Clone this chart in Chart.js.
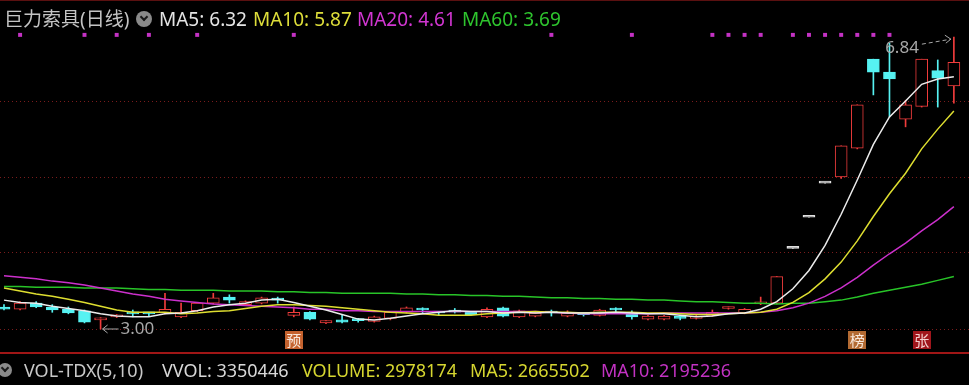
<!DOCTYPE html>
<html>
<head>
<meta charset="utf-8">
<script src="https://cdn.jsdelivr.net/npm/chart.js@4.4.1/dist/chart.umd.min.js"></script>
<style>
  html, body { margin: 0; padding: 0; background: #000; }
  #wrap { position: relative; width: 969px; height: 385px; overflow: hidden; background: #000; }
  #wrap canvas { position: absolute; left: 0; top: 0; }
  .t { position: absolute; white-space: nowrap; font-family: 'Noto Sans', 'Noto Sans CJK SC', sans-serif; }
  .h { top: 10px; font-size: 19px; line-height: 19px; }
  .f { top: 361px; font-size: 18px; line-height: 18px; }
  .ico { position: absolute; border-radius: 50%; background: #8a8a8a; }
  .ico::after { content: ''; position: absolute; left: 50%; top: 38%; width: 4px; height: 4px;
    border-right: 2px solid #1a1a1a; border-bottom: 2px solid #1a1a1a; transform: translate(-50%, -50%) rotate(45deg); }
  #topline { position: absolute; left: 0; top: 0; width: 969px; height: 1px; background: #5a1010; }
</style>
</head>
<body>
<div id="wrap">
  <canvas id="kChart" width="969" height="385"></canvas>
  <div id="topline"></div>
  <div id="legend"></div>
</div>
<script>
// daily candles, oldest first
const open  = [3.29, 3.26, 3.34, 3.29, 3.26, 3.24, 3.12, 3.16, 3.22, 3.21,
               3.21, 3.16, 3.24, 3.34, 3.42, 3.32, 3.34, 3.39, 3.18, 3.22,
               3.08, 3.12, 3.12, 3.10, 3.14, 3.22, 3.26, 3.22, 3.25, 3.22,
               3.16, 3.28, 3.16, 3.17, 3.22, 3.17, 3.20, 3.18, 3.26, 3.21,
               3.13, 3.13, 3.15, 3.14, 3.18, 3.27, 3.21, 3.33, 3.34, 4.06,
               4.47, 4.92, 5.00, 5.38, 6.55, 6.38, 5.76, 5.93, 6.40, 6.20];
const high  = [3.32, 3.36, 3.36, 3.32, 3.29, 3.25, 3.15, 3.19, 3.25, 3.22,
               3.47, 3.34, 3.35, 3.47, 3.45, 3.37, 3.42, 3.42, 3.29, 3.23,
               3.11, 3.18, 3.14, 3.17, 3.23, 3.29, 3.28, 3.23, 3.27, 3.23,
               3.28, 3.29, 3.25, 3.22, 3.25, 3.24, 3.21, 3.26, 3.28, 3.24,
               3.18, 3.18, 3.18, 3.18, 3.25, 3.29, 3.27, 3.42, 3.69, 4.06,
               4.47, 4.92, 5.41, 5.95, 6.55, 6.76, 6.01, 6.55, 6.54, 6.84];
const low   = [3.25, 3.25, 3.28, 3.22, 3.20, 3.08, 3.00, 3.15, 3.16, 3.17,
               3.20, 3.15, 3.23, 3.33, 3.34, 3.31, 3.33, 3.34, 3.16, 3.12,
               3.07, 3.08, 3.09, 3.09, 3.12, 3.21, 3.21, 3.18, 3.21, 3.18,
               3.15, 3.16, 3.15, 3.16, 3.17, 3.16, 3.17, 3.17, 3.21, 3.13,
               3.12, 3.12, 3.12, 3.13, 3.17, 3.26, 3.20, 3.32, 3.33, 4.06,
               4.47, 4.92, 4.98, 5.37, 6.08, 5.79, 5.66, 5.92, 5.92, 5.97];
const close = [3.26, 3.34, 3.29, 3.25, 3.21, 3.09, 3.14, 3.18, 3.20, 3.20,
               3.26, 3.22, 3.34, 3.41, 3.38, 3.36, 3.41, 3.38, 3.22, 3.13,
               3.11, 3.09, 3.11, 3.16, 3.22, 3.28, 3.25, 3.21, 3.22, 3.19,
               3.26, 3.17, 3.24, 3.21, 3.21, 3.21, 3.19, 3.25, 3.25, 3.16,
               3.17, 3.17, 3.14, 3.17, 3.22, 3.28, 3.26, 3.35, 3.69, 4.06,
               4.47, 4.92, 5.41, 5.95, 6.38, 6.29, 5.95, 6.55, 6.30, 6.51];

// moving averages as drawn on the chart
const ma5  = [3.38, 3.35, 3.34, 3.30, 3.27, 3.24, 3.20, 3.17, 3.16, 3.16,
              3.20, 3.21, 3.24, 3.29, 3.32, 3.34, 3.38, 3.39, 3.35, 3.30,
              3.25, 3.19, 3.13, 3.12, 3.14, 3.17, 3.20, 3.22, 3.24, 3.23,
              3.23, 3.21, 3.22, 3.21, 3.22, 3.21, 3.21, 3.21, 3.22, 3.21,
              3.20, 3.20, 3.18, 3.16, 3.17, 3.20, 3.21, 3.26, 3.36, 3.53,
              3.77, 4.10, 4.51, 4.96, 5.43, 5.79, 6.00, 6.22, 6.29, 6.32];
const ma10 = [3.54, 3.50, 3.46, 3.43, 3.39, 3.35, 3.30, 3.25, 3.22, 3.22,
              3.22, 3.20, 3.21, 3.23, 3.24, 3.27, 3.30, 3.32, 3.32, 3.31,
              3.30, 3.28, 3.26, 3.24, 3.22, 3.21, 3.20, 3.18, 3.18, 3.18,
              3.20, 3.21, 3.22, 3.23, 3.22, 3.22, 3.21, 3.22, 3.22, 3.22,
              3.21, 3.21, 3.20, 3.19, 3.19, 3.20, 3.21, 3.22, 3.26, 3.35,
              3.48, 3.66, 3.88, 4.16, 4.48, 4.78, 5.05, 5.37, 5.63, 5.87];
const ma20 = [3.70, 3.68, 3.66, 3.63, 3.61, 3.58, 3.54, 3.50, 3.46, 3.43,
              3.39, 3.37, 3.35, 3.33, 3.32, 3.31, 3.30, 3.29, 3.28, 3.26,
              3.26, 3.24, 3.24, 3.23, 3.23, 3.23, 3.23, 3.23, 3.23, 3.23,
              3.23, 3.23, 3.23, 3.23, 3.22, 3.21, 3.20, 3.20, 3.20, 3.20,
              3.20, 3.21, 3.21, 3.21, 3.21, 3.21, 3.21, 3.22, 3.24, 3.28,
              3.34, 3.43, 3.54, 3.68, 3.84, 3.99, 4.13, 4.29, 4.44, 4.61];
const ma60 = [3.56, 3.56, 3.55, 3.55, 3.55, 3.54, 3.54, 3.54, 3.53, 3.52,
              3.52, 3.51, 3.51, 3.51, 3.50, 3.50, 3.50, 3.49, 3.49, 3.48,
              3.48, 3.47, 3.47, 3.47, 3.47, 3.46, 3.46, 3.45, 3.45, 3.44,
              3.44, 3.43, 3.43, 3.42, 3.41, 3.41, 3.40, 3.40, 3.39, 3.39,
              3.38, 3.38, 3.37, 3.36, 3.36, 3.35, 3.34, 3.34, 3.33, 3.34,
              3.34, 3.36, 3.38, 3.42, 3.47, 3.51, 3.55, 3.59, 3.64, 3.69];

// days with a purple signal dot along the top
const signalDays = [1, 5, 7, 9, 12, 18, 34, 39, 44, 45, 46, 47, 49, 50, 51, 52, 53, 54, 55];
// info tags under the candles
const tagDays = [18, 53, 57];
const tagText = ['预', '榜', '张'];
const gridPrices = [3, 4, 5, 6];

const stockName = '巨力索具(日线)';
const volNames = ['VVOL', 'VOLUME', 'MA5', 'MA10'];
const volValues = ['3350446', '2978174', '2665502', '2195236'];

const RED = '#f03c3c', CYAN = '#56f2f2', FLAT = '#e0e0e0';
const days = close.map((c, i) => i);
const candleColor = days.map(i => close[i] > open[i] ? RED : close[i] < open[i] ? CYAN : FLAT);
const bodyFill = days.map(i => close[i] > open[i] ? '#000' : candleColor[i]);

// legend text -------------------------------------------------
const legend = document.getElementById('legend');
function addText(cls, left, color, text) {
  const s = document.createElement('span');
  s.className = 't ' + cls;
  s.style.left = left + 'px';
  s.style.color = color;
  s.textContent = text;
  legend.appendChild(s);
}
function addIcon(left, top, size) {
  const s = document.createElement('span');
  s.className = 'ico';
  Object.assign(s.style, { left: left + 'px', top: top + 'px', width: size + 'px', height: size + 'px' });
  legend.appendChild(s);
}
addText('h', 4, '#c4c4c4', stockName);
addIcon(136, 11, 16);
addText('h', 159, '#e4e4e4', 'MA5: ' + ma5[ma5.length - 1].toFixed(2));
addText('h', 253, '#dede3a', 'MA10: ' + ma10[ma10.length - 1].toFixed(2));
addText('h', 357, '#d236d2', 'MA20: ' + ma20[ma20.length - 1].toFixed(2));
addText('h', 462, '#2ec42e', 'MA60: ' + ma60[ma60.length - 1].toFixed(2));

addIcon(-2, 363, 14);
addText('f', 24, '#c8c8c8', 'VOL-TDX(5,10)');
const volLeft = [162, 302, 470, 601];
const volColor = ['#d8d8d8', '#d6d630', '#d6d630', '#c232c2'];
volNames.forEach((n, k) => addText('f', volLeft[k], volColor[k], n + ': ' + volValues[k]));

// overlay: tags, high/low marks, pane separator -----------------
const overlay = {
  id: 'overlay',
  afterDatasetsDraw(chart) {
    const { ctx, chartArea, scales: { x, y } } = chart;
    ctx.save();

    ctx.strokeStyle = '#a01616';
    ctx.lineWidth = 2;
    ctx.beginPath();
    ctx.moveTo(0, chartArea.bottom);
    ctx.lineTo(chart.width, chartArea.bottom);
    ctx.stroke();

    const tagBg = ['#c4622e', '#b26a32', '#a0161c'];
    const tagFg = ['#f8e8dc', '#f8e8dc', '#f4d0d0'];
    ctx.font = '15px "Noto Sans CJK SC"';
    ctx.textAlign = 'center';
    ctx.textBaseline = 'middle';
    tagDays.forEach((d, k) => {
      const cx = x.getPixelForValue(d);
      ctx.fillStyle = tagBg[k];
      ctx.fillRect(Math.round(cx - 9), chartArea.bottom - 22, 18, 18);
      ctx.fillStyle = tagFg[k];
      ctx.fillText(tagText[k], cx, chartArea.bottom - 13);
    });

    // highest high
    const hiVal = Math.max(...high), hiIdx = high.indexOf(hiVal);
    const hx = x.getPixelForValue(hiIdx), hy = y.getPixelForValue(hiVal);
    ctx.strokeStyle = '#a8a8a8';
    ctx.fillStyle = '#a8a8a8';
    ctx.lineWidth = 1;
    ctx.setLineDash([4, 3]);
    ctx.beginPath();
    ctx.moveTo(hx - 32, hy + 7);
    ctx.lineTo(hx - 3, hy + 2);
    ctx.stroke();
    ctx.setLineDash([]);
    ctx.beginPath();
    ctx.moveTo(hx - 9, hy - 2);
    ctx.lineTo(hx - 3, hy + 2);
    ctx.lineTo(hx - 8, hy + 6);
    ctx.stroke();
    ctx.font = '17px "Noto Sans"';
    ctx.textAlign = 'right';
    ctx.fillText(hiVal.toFixed(2), hx - 35, hy + 11);

    // lowest low
    const loVal = Math.min(...low), loIdx = low.indexOf(loVal);
    const lx = x.getPixelForValue(loIdx), ly = y.getPixelForValue(loVal);
    ctx.beginPath();
    ctx.moveTo(lx + 18, ly);
    ctx.lineTo(lx + 2, ly);
    ctx.moveTo(lx + 7, ly - 4);
    ctx.lineTo(lx + 2, ly);
    ctx.lineTo(lx + 7, ly + 4);
    ctx.stroke();
    ctx.textAlign = 'left';
    ctx.fillText(loVal.toFixed(2), lx + 20, ly);

    ctx.restore();
  }
};

const pts = arr => arr.map((v, i) => ({ x: i, y: v }));
const maLine = (label, arr, color) => ({
  type: 'line', label, data: pts(arr), borderColor: color, borderWidth: 1.5,
  pointRadius: 0, tension: 0, fill: false, order: 0
});

const ctx = document.getElementById('kChart').getContext('2d');
const chart = new Chart(ctx, {
  type: 'bar',
  data: {
    datasets: [
      maLine('MA5', ma5, '#ececec'),
      maLine('MA10', ma10, '#dede30'),
      maLine('MA20', ma20, '#cc30cc'),
      maLine('MA60', ma60, '#28c428'),
      {
        type: 'line', label: 'signal', data: signalDays.map(d => ({ x: d, y: 6.87 })),
        showLine: false, pointStyle: 'rect', pointRadius: 2.8, pointBorderWidth: 0,
        pointBackgroundColor: '#c432c4', order: 0
      },
      {
        label: 'body', data: days.map(i => ({ x: i, y: [open[i], close[i]] })),
        backgroundColor: bodyFill, borderColor: candleColor, borderWidth: 1,
        borderSkipped: false, barThickness: 12, minBarLength: 2, grouped: false, order: 1
      },
      {
        label: 'wick', data: days.map(i => ({ x: i, y: [low[i], high[i]] })),
        backgroundColor: candleColor, borderWidth: 0, barThickness: 1,
        grouped: false, order: 2
      }
    ]
  },
  options: {
    responsive: false,
    animation: false,
    devicePixelRatio: 1,
    layout: { autoPadding: false, padding: { top: 25, bottom: 32, left: 0, right: 0 } },
    plugins: { legend: { display: false }, tooltip: { enabled: false } },
    scales: {
      x: { type: 'linear', display: false, offset: false, min: -0.248, max: 59.94 },
      y: {
        type: 'linear', min: 3 - 24 / 76, max: 7,
        ticks: { display: false },
        border: { display: false, dash: [1, 3] },
        grid: { color: '#7a1c1c', drawTicks: false, lineWidth: 1 },
        afterBuildTicks: s => { s.ticks = gridPrices.map(v => ({ value: v })); }
      }
    }
  },
  plugins: [overlay]
});
</script>
</body>
</html>
